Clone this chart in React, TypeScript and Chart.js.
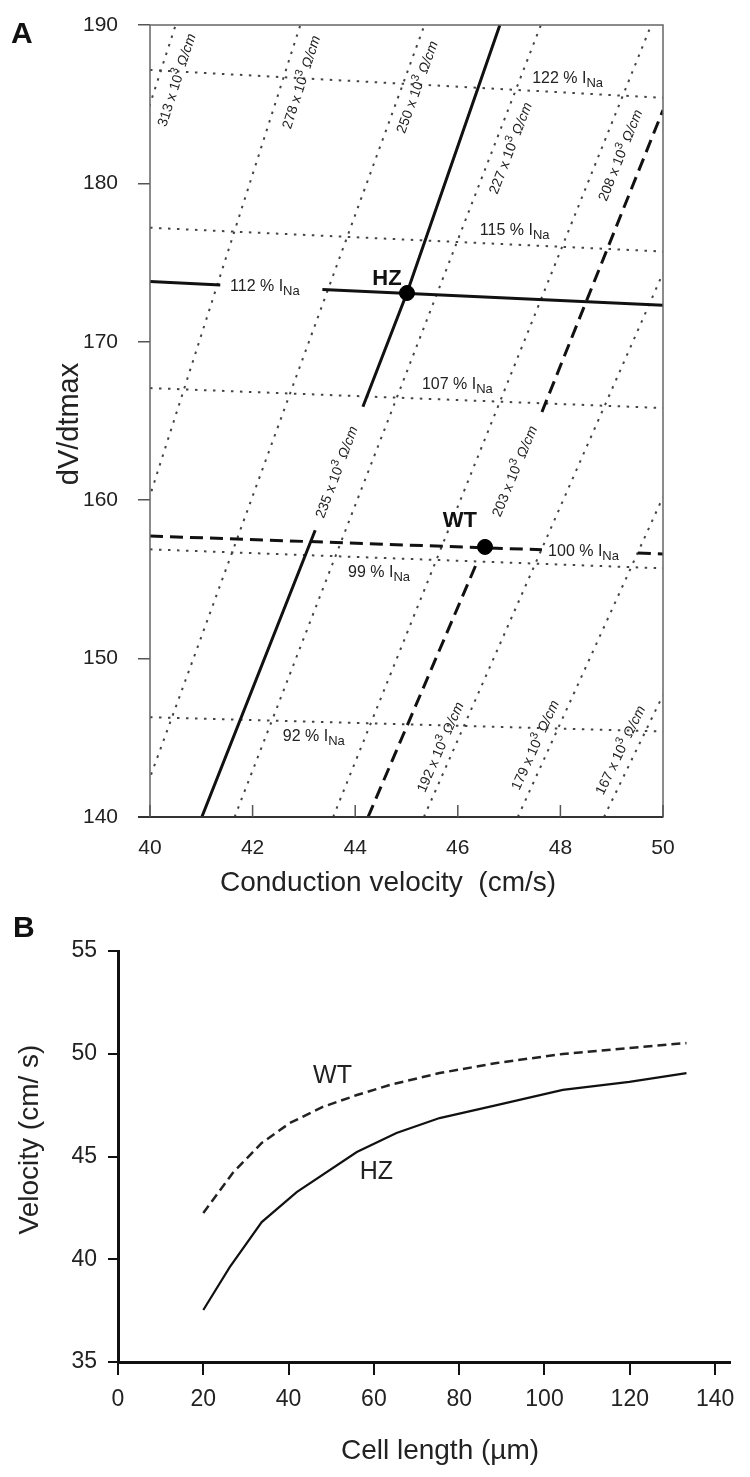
import React, { useEffect, useRef } from 'react';
import { Chart, registerables } from 'chart.js';

Chart.register(...registerables);

const FONT = '"Liberation Sans", Arial, Helvetica, sans-serif';

// ================= Panel A data =================
const cvLimits = [40, 50];
const dvdtLimits = [140, 190];
const cvStep = 2;
const dvdtStep = 10;

// iso-INa lines (dV/dtmax values along conduction velocity), null = gap for a label
const iNaPercent = [122, 115, 112, 107, 100, 99, 92];
const iNaLineCv = [
  [40, 50],
  [40, 50],
  [40, 41.37, null, 43.36, 50],
  [40, 50],
  [40, 47.64, null, 49.51, 50],
  [40, 50],
  [40, 50],
];
const iNaLineDvdt = [
  [187.16, 185.4],
  [177.2, 175.7],
  [173.8, 173.59, null, 173.3, 172.3],
  [167.08, 165.82],
  [157.74, 156.87, null, 156.66, 156.6],
  [156.9, 155.7],
  [146.3, 145.4],
];
const iNaLabelCv = [47.45, 46.43, 41.56, 45.3, 47.76, 43.86, 42.59];
const iNaLabelDvdt = [186.34, 176.74, 173.21, 167.02, 156.48, 155.15, 144.8];

// iso-resistance lines (x10^3 Ohm/cm)
const resistance = [313, 278, 250, 235, 227, 208, 203, 192, 179, 167];
const resLineCv = [
  [39.5, 40.5],
  [38.0, 42.93],
  [39.72, 45.35],
  [41.01, 43.22, null, 44.15, 45.01, 46.82],
  [41.65, 47.62],
  [43.57, 49.77],
  [44.25, 46.37, null, 47.64, 50.0],
  [45.34, 50.0],
  [47.17, 50.0],
  [48.85, 50.0],
];
const resLineDvdt = [
  [180, 190],
  [140, 190],
  [140, 190],
  [140, 158.1, null, 165.9, 173.1, 190],
  [140, 190],
  [140, 190],
  [140, 156.04, null, 165.57, 184.63],
  [140, 174.34],
  [140, 160.2],
  [140, 147.7],
];
const resLabelCv = [40.51, 42.94, 45.2, 43.63, 47.02, 49.16, 47.1, 45.65, 47.5, 49.16];
const resLabelDvdt = [186.53, 186.4, 186.09, 161.78, 182.23, 181.79, 161.84, 144.42, 144.55, 144.23];

const hzINa = 112;
const wtINa = 100;
const hzRes = 235;
const wtRes = 203;

const genotypes = ['HZ', 'WT'];
const genotypeCv = [45.01, 46.53];
const genotypeDvdt = [173.08, 157.05];
const genotypeLabelCv = [44.62, 46.04];
const genotypeLabelDvdt = [173.96, 158.69];

// ================= Panel B data =================
const cellLengthLimits = [0, 143.5];
const velocityLimits = [35, 55];
const cellLengthStep = 20;
const velocityStep = 5;

const cellLengthWT = [20, 26.9, 33.7, 40.3, 48.0, 56.0, 63.7, 75.4, 88.8, 104.3, 119.9, 133.3];
const velocityWT = [42.25, 44.2, 45.66, 46.63, 47.41, 47.99, 48.48, 49.06, 49.55, 49.99, 50.28, 50.52];
const cellLengthHZ = [20, 26.2, 33.7, 41.9, 56.0, 65.3, 75.4, 88.8, 104.3, 119.9, 133.3];
const velocityHZ = [37.53, 39.62, 41.81, 43.27, 45.22, 46.14, 46.87, 47.5, 48.24, 48.63, 49.06];

const curveLabels = ['WT', 'HZ'];
const curveLabelCellLength = [50.3, 60.6];
const curveLabelVelocity = [48.92, 44.25];

// ================= helpers =================
type Part = { t: string; size: number; dy?: number; style?: string };

function setFont(ctx: CanvasRenderingContext2D, p: Part) {
  ctx.font = `${p.style ? p.style + ' ' : ''}${p.size}px ${FONT}`;
}
function measureParts(ctx: CanvasRenderingContext2D, parts: Part[]) {
  let w = 0;
  for (const p of parts) {
    setFont(ctx, p);
    w += ctx.measureText(p.t).width;
  }
  return w;
}
function drawParts(ctx: CanvasRenderingContext2D, parts: Part[], x: number, y: number) {
  let cx = x;
  ctx.textAlign = 'left';
  ctx.textBaseline = 'alphabetic';
  for (const p of parts) {
    setFont(ctx, p);
    ctx.fillText(p.t, cx, y + (p.dy ?? 0));
    cx += ctx.measureText(p.t).width;
  }
}
function toPoints(xs: (number | null)[], ys: (number | null)[]) {
  return xs.map((x, i) => ({ x: x, y: ys[i] }));
}
function lineStyle(kind: 'hz' | 'wt' | 'iso') {
  if (kind === 'hz') return { borderColor: '#111', borderWidth: 3, borderDash: [] as number[] };
  if (kind === 'wt') return { borderColor: '#111', borderWidth: 3, borderDash: [13, 7] };
  return { borderColor: '#444', borderWidth: 2, borderDash: [2.5, 6.5] };
}
const noScalePadding = (s: any) => {
  s.paddingTop = 0;
  s.paddingBottom = 0;
  s.paddingLeft = 0;
  s.paddingRight = 0;
};

// ================= Panel A =================
const panelAPlugin = {
  id: 'panelADecor',
  afterDatasetsDraw(chart: any) {
    const { ctx, chartArea: ca } = chart;
    const xs = chart.scales.x;
    const ys = chart.scales.y;
    ctx.save();
    // frame
    ctx.strokeStyle = '#666';
    ctx.lineWidth = 1.5;
    ctx.strokeRect(ca.left, ca.top, ca.right - ca.left, ca.bottom - ca.top);
    ctx.strokeStyle = '#333';
    ctx.lineWidth = 2;
    ctx.beginPath();
    ctx.moveTo(ca.left - 12, ca.bottom);
    ctx.lineTo(ca.right, ca.bottom);
    ctx.stroke();
    // inward x ticks
    ctx.lineWidth = 1.5;
    ctx.strokeStyle = '#555';
    xs.ticks.forEach((t: any) => {
      const px = xs.getPixelForValue(t.value);
      ctx.beginPath();
      ctx.moveTo(px, ca.bottom);
      ctx.lineTo(px, ca.bottom - 12);
      ctx.stroke();
    });

    ctx.fillStyle = '#222';
    // INa labels
    iNaPercent.forEach((p, i) => {
      const px = xs.getPixelForValue(iNaLabelCv[i]);
      const py = ys.getPixelForValue(iNaLabelDvdt[i]);
      const parts: Part[] = [
        { t: `${p} % I`, size: 16 },
        { t: 'Na', size: 13, dy: 4 },
      ];
      drawParts(ctx, parts, px, py);
    });
    // resistance labels (rotated along their line)
    resistance.forEach((r, i) => {
      const cvs = resLineCv[i];
      const dvs = resLineDvdt[i];
      const x0 = xs.getPixelForValue(cvs[0]);
      const y0 = ys.getPixelForValue(dvs[0]);
      const x1 = xs.getPixelForValue(cvs[cvs.length - 1]);
      const y1 = ys.getPixelForValue(dvs[dvs.length - 1]);
      const ang = Math.atan2(y1 - y0, x1 - x0);
      const cx = xs.getPixelForValue(resLabelCv[i]);
      const cy = ys.getPixelForValue(resLabelDvdt[i]);
      const parts: Part[] = [
        { t: `${r} x 10`, size: 14 },
        { t: '3', size: 11, dy: -6 },
        { t: ' \u03A9/cm', size: 14, style: 'italic' },
      ];
      const w = measureParts(ctx, parts);
      ctx.save();
      ctx.translate(cx, cy);
      ctx.rotate(ang);
      drawParts(ctx, parts, -w / 2, 5);
      ctx.restore();
    });
    // genotype labels
    ctx.fillStyle = '#111';
    ctx.font = `bold 22px ${FONT}`;
    ctx.textAlign = 'center';
    ctx.textBaseline = 'middle';
    genotypes.forEach((g, i) => {
      ctx.fillText(g, xs.getPixelForValue(genotypeLabelCv[i]), ys.getPixelForValue(genotypeLabelDvdt[i]));
    });
    ctx.restore();
  },
  afterDraw(chart: any) {
    const { ctx, chartArea: ca } = chart;
    ctx.save();
    ctx.fillStyle = '#111';
    ctx.font = `bold 30px ${FONT}`;
    ctx.textAlign = 'left';
    ctx.textBaseline = 'alphabetic';
    ctx.fillText('A', 11, 43);
    ctx.fillStyle = '#222';
    ctx.font = `29px ${FONT}`;
    ctx.textAlign = 'center';
    ctx.save();
    ctx.translate(78, (ca.top + ca.bottom) / 2 + 3);
    ctx.rotate(-Math.PI / 2);
    ctx.fillText('dV/dtmax', 0, 0);
    ctx.restore();
    ctx.font = `28px ${FONT}`;
    ctx.fillText('Conduction velocity  (cm/s)', 388, 891);
    ctx.restore();
  },
};

function buildConfigA() {
  const datasets: any[] = [];
  genotypes.forEach((g, i) => {
    datasets.push({
      label: g,
      data: [{ x: genotypeCv[i], y: genotypeDvdt[i] }],
      showLine: false,
      pointRadius: 7.5,
      pointBackgroundColor: '#000',
      pointBorderColor: '#000',
      order: 0,
    });
  });
  iNaPercent.forEach((p, i) => {
    const kind = p === hzINa ? 'hz' : p === wtINa ? 'wt' : 'iso';
    datasets.push({
      label: `${p} % INa`,
      data: toPoints(iNaLineCv[i], iNaLineDvdt[i]),
      showLine: true,
      pointRadius: 0,
      tension: 0,
      spanGaps: false,
      clip: 0,
      order: kind === 'iso' ? 2 : 1,
      ...lineStyle(kind),
    });
  });
  resistance.forEach((r, i) => {
    const kind = r === hzRes ? 'hz' : r === wtRes ? 'wt' : 'iso';
    datasets.push({
      label: `${r} x 10^3 Ohm/cm`,
      data: toPoints(resLineCv[i], resLineDvdt[i]),
      showLine: true,
      pointRadius: 0,
      tension: 0,
      spanGaps: false,
      clip: 0,
      order: kind === 'iso' ? 2 : 1,
      ...lineStyle(kind),
    });
  });
  return {
    type: 'scatter',
    data: { datasets },
    options: {
      responsive: false,
      animation: false,
      devicePixelRatio: 1,
      layout: { autoPadding: false, padding: { left: 0, top: 25, right: 87, bottom: 0 } },
      plugins: { legend: { display: false }, tooltip: { enabled: false } },
      scales: {
        x: {
          type: 'linear',
          min: cvLimits[0],
          max: cvLimits[1],
          afterFit: (s: any) => {
            s.height = 83;
            noScalePadding(s);
          },
          border: { display: false },
          grid: { display: false, drawTicks: false },
          ticks: { stepSize: cvStep, padding: 19, font: { size: 21, family: FONT }, color: '#222' },
        },
        y: {
          type: 'linear',
          min: dvdtLimits[0],
          max: dvdtLimits[1],
          afterFit: (s: any) => {
            s.width = 150;
            noScalePadding(s);
          },
          border: { display: false },
          grid: { drawOnChartArea: false, drawTicks: true, tickLength: 12, color: '#555', lineWidth: 1.5 },
          ticks: { stepSize: dvdtStep, padding: 20, font: { size: 21, family: FONT }, color: '#222' },
        },
      },
    },
    plugins: [panelAPlugin],
  };
}

// ================= Panel B =================
const panelBPlugin = {
  id: 'panelBDecor',
  afterDraw(chart: any) {
    const { ctx, chartArea: ca } = chart;
    const xs = chart.scales.x;
    const ys = chart.scales.y;
    ctx.save();
    ctx.fillStyle = '#222';
    ctx.font = `25px ${FONT}`;
    ctx.textAlign = 'center';
    ctx.textBaseline = 'middle';
    curveLabels.forEach((lab, i) => {
      ctx.fillText(lab, xs.getPixelForValue(curveLabelCellLength[i]), ys.getPixelForValue(curveLabelVelocity[i]));
    });
    ctx.fillStyle = '#111';
    ctx.font = `bold 30px ${FONT}`;
    ctx.textAlign = 'left';
    ctx.textBaseline = 'alphabetic';
    ctx.fillText('B', 13, 37);
    ctx.fillStyle = '#222';
    ctx.font = `28px ${FONT}`;
    ctx.textAlign = 'center';
    ctx.save();
    ctx.translate(38, (ca.top + ca.bottom) / 2 - 17);
    ctx.rotate(-Math.PI / 2);
    ctx.fillText('Velocity (cm/ s)', 0, 0);
    ctx.restore();
    ctx.fillText('Cell length (\u00B5m)', 440, 559);
    ctx.restore();
  },
};

function buildConfigB() {
  return {
    type: 'scatter',
    data: {
      datasets: [
        {
          label: 'WT',
          data: toPoints(cellLengthWT, velocityWT),
          showLine: true,
          pointRadius: 0,
          tension: 0,
          borderColor: '#222',
          borderWidth: 2.5,
          borderDash: [9, 5],
        },
        {
          label: 'HZ',
          data: toPoints(cellLengthHZ, velocityHZ),
          showLine: true,
          pointRadius: 0,
          tension: 0,
          borderColor: '#111',
          borderWidth: 2.2,
        },
      ],
    },
    options: {
      responsive: false,
      animation: false,
      devicePixelRatio: 1,
      layout: { autoPadding: false, padding: { left: 0, top: 51, right: 20, bottom: 0 } },
      plugins: { legend: { display: false }, tooltip: { enabled: false } },
      scales: {
        x: {
          type: 'linear',
          min: cellLengthLimits[0],
          max: cellLengthLimits[1],
          afterFit: (s: any) => {
            s.height = 115;
            noScalePadding(s);
          },
          border: { display: true, color: '#111', width: 3 },
          grid: { drawOnChartArea: false, drawTicks: true, tickLength: 13, color: '#111', lineWidth: 2 },
          ticks: { stepSize: cellLengthStep, includeBounds: false, padding: 11, font: { size: 23, family: FONT }, color: '#222' },
        },
        y: {
          type: 'linear',
          min: velocityLimits[0],
          max: velocityLimits[1],
          afterFit: (s: any) => {
            s.width = 118;
            noScalePadding(s);
          },
          border: { display: true, color: '#111', width: 3 },
          grid: { drawOnChartArea: false, drawTicks: true, tickLength: 10, color: '#111', lineWidth: 2 },
          ticks: { stepSize: velocityStep, padding: 11, font: { size: 23, family: FONT }, color: '#222' },
        },
      },
    },
    plugins: [panelBPlugin],
  };
}

export default function App() {
  const refA = useRef<HTMLCanvasElement>(null);
  const refB = useRef<HTMLCanvasElement>(null);
  useEffect(() => {
    Chart.defaults.font.family = FONT;
    Chart.defaults.color = '#222';
    const chartA = new Chart(refA.current as HTMLCanvasElement, buildConfigA() as any);
    const chartB = new Chart(refB.current as HTMLCanvasElement, buildConfigB() as any);
    return () => {
      chartA.destroy();
      chartB.destroy();
    };
  }, []);
  return (
    <div style={{ position: 'absolute', left: 0, top: 0, width: 750, height: 1477, background: '#fff' }}>
      <canvas
        ref={refA}
        width={750}
        height={900}
        style={{ position: 'absolute', left: 0, top: 0, width: 750, height: 900 }}
      />
      <canvas
        ref={refB}
        width={750}
        height={577}
        style={{ position: 'absolute', left: 0, top: 900, width: 750, height: 577 }}
      />
    </div>
  );
}
